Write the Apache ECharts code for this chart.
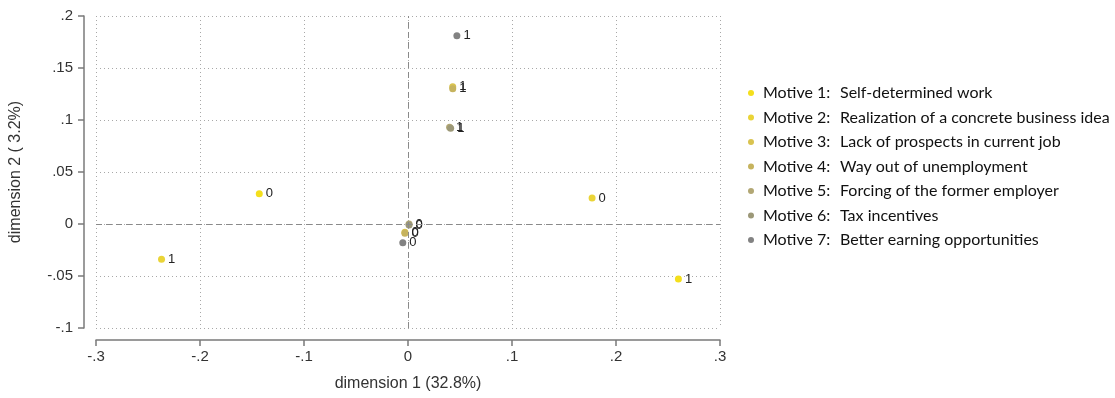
<!DOCTYPE html>
<html>
<head>
<meta charset="utf-8">
<script src="https://cdn.jsdelivr.net/npm/echarts@6/dist/echarts.min.js"></script>
<style>
  html, body { margin: 0; padding: 0; background: #fff; }
  #chart { width: 1115px; height: 398px; }
</style>
</head>
<body>
<div id="chart"></div>
<script>
// Correspondence analysis map: each motive has a "0" (not named) and "1" (named) category point.
const motiveNames = ['Motive 1', 'Motive 2', 'Motive 3', 'Motive 4', 'Motive 5', 'Motive 6', 'Motive 7'];
const motiveDescriptions = [
  'Self-determined work',
  'Realization of a concrete business idea',
  'Lack of prospects in current job',
  'Way out of unemployment',
  'Forcing of the former employer',
  'Tax incentives',
  'Better earning opportunities'
];
const categoryLabels = ['0', '1'];

// Coordinates of category "0" on dimension 1 and dimension 2
const dim1Cat0 = [-0.143, 0.177, -0.003, -0.003, 0.001, 0.001, -0.005];
const dim2Cat0 = [0.029, 0.025, -0.008, -0.009, 0.000, -0.001, -0.018];
// Coordinates of category "1" on dimension 1 and dimension 2
const dim1Cat1 = [0.260, -0.237, 0.043, 0.043, 0.040, 0.041, 0.047];
const dim2Cat1 = [-0.053, -0.034, 0.132, 0.130, 0.093, 0.092, 0.181];

const motiveColors = ['#f4df1c', '#ead437', '#d9c34f', '#c6b35e', '#b2a774', '#9c9878', '#828282'];

const chart = echarts.init(document.getElementById('chart'), null, { renderer: 'canvas' });

function tickText(v) {
  const r = Math.round(v * 1000) / 1000;
  if (r === 0) return '0';
  const s = String(Math.abs(r)).replace(/^0/, '');
  return (r < 0 ? '-' : '') + s;
}

const axisFont = { fontFamily: 'Liberation Sans, Arial, sans-serif', color: '#333', fontSize: 15 };

const series = motiveNames.map((name, i) => ({
  name: name,
  type: 'scatter',
  symbol: 'circle',
  symbolSize: 7,
  itemStyle: { color: motiveColors[i], opacity: 1 },
  data: [
    [dim1Cat0[i], dim2Cat0[i], categoryLabels[0]],
    [dim1Cat1[i], dim2Cat1[i], categoryLabels[1]]
  ],
  label: {
    show: true,
    position: 'right',
    distance: 3,
    formatter: p => p.value[2],
    color: '#222',
    fontSize: 13,
    fontFamily: 'Liberation Sans, Arial, sans-serif'
  },
  emphasis: { disabled: true },
  markLine: i === 0 ? {
    silent: true,
    symbol: 'none',
    label: { show: false },
    lineStyle: { color: '#8a8a8a', type: [6, 4], width: 1 },
    data: [{ xAxis: 0 }, { yAxis: 0 }],
    animation: false
  } : undefined
}));

const legendRich = {
  a: { width: 77, padding: [0, 0, 0, 4], fontSize: 16, color: '#111', fontFamily: 'Lato, sans-serif' },
  b: { fontSize: 16, color: '#111', fontFamily: 'Lato, sans-serif' }
};

chart.setOption({
  animation: false,
  backgroundColor: '#ffffff',
  grid: { left: 95, right: 395, top: 16, bottom: 70, containLabel: false },
  legend: {
    orient: 'vertical',
    left: 743,
    top: 80,
    itemGap: 8.5,
    itemWidth: 6,
    itemHeight: 6,
    icon: 'circle',
    data: motiveNames,
    formatter: name => {
      const i = motiveNames.indexOf(name);
      return '{a|' + name + ':}{b|' + motiveDescriptions[i] + '}';
    },
    textStyle: { rich: legendRich }
  },
  xAxis: {
    type: 'value',
    min: -0.3,
    max: 0.3,
    interval: 0.1,
    offset: 12,
    name: 'dimension 1 (32.8%)',
    nameLocation: 'middle',
    nameGap: 36,
    nameTextStyle: { fontFamily: 'Liberation Sans, Arial, sans-serif', fontSize: 16, color: '#333' },
    axisLine: { show: true, onZero: false, lineStyle: { color: '#7a7a7a', width: 1.5 } },
    axisTick: { show: true, length: 6, lineStyle: { color: '#7a7a7a', width: 1.5 } },
    axisLabel: Object.assign({ margin: 9, formatter: tickText }, axisFont),
    splitLine: { show: true, lineStyle: { color: '#a8a8a8', type: [1, 3], width: 1 } }
  },
  yAxis: {
    type: 'value',
    min: -0.1,
    max: 0.2,
    interval: 0.05,
    offset: 12,
    name: 'dimension 2 ( 3.2%)',
    nameLocation: 'middle',
    nameGap: 60,
    nameRotate: 90,
    nameTextStyle: { fontFamily: 'Liberation Sans, Arial, sans-serif', fontSize: 16, color: '#333' },
    axisLine: { show: true, onZero: false, lineStyle: { color: '#7a7a7a', width: 1.5 } },
    axisTick: { show: true, length: 6, lineStyle: { color: '#7a7a7a', width: 1.5 } },
    axisLabel: Object.assign({ margin: 11, formatter: tickText }, axisFont),
    splitLine: { show: true, lineStyle: { color: '#a8a8a8', type: [1, 3], width: 1 } }
  },
  series: series
});
</script>
</body>
</html>
